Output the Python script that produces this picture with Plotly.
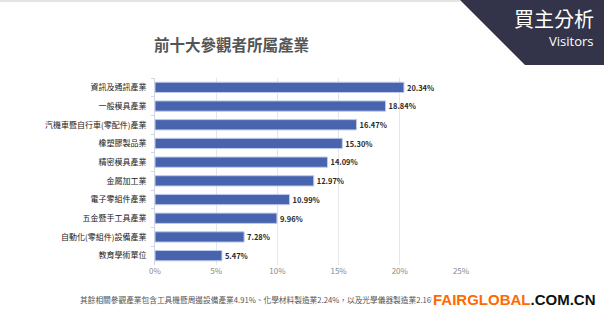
import plotly.graph_objects as go

categories = ["資訊及通訊產業", "一般模具產業", "汽機車暨自行車(零配件)產業", "橡塑膠製品業",
              "精密模具產業", "金屬加工業", "電子零組件產業", "五金暨手工具產業",
              "自動化(零組件)設備產業", "教育學術單位"]
values = [20.34, 18.84, 16.47, 15.30, 14.09, 12.97, 10.99, 9.96, 7.28, 5.47]
tick_vals = [0, 5, 10, 15, 20, 25]
tick_text = ["0%", "5%", "10%", "15%", "20%", "25%"]

title_text = "前十大參觀者所屬產業"
note_text = "其餘相關參觀產業包含工具機暨周邊設備產業4.91%、化學材料製造業2.24%，以及光學儀器製造業2.16%"

FONT = "Noto Sans CJK TC"

fig = go.Figure()
fig.add_trace(go.Bar(
    y=categories, x=values, orientation="h",
    marker=dict(color="#4864AE", line=dict(color="#BFCBEA", width=1)),
    text=[f"<b>{v:.2f}%</b>" for v in values], textposition="outside",
    textfont=dict(size=8, color="#2A2A2A", family=FONT),
    cliponaxis=False, hoverinfo="skip",
))

W, H = 604, 322
l, r, t, b = 155, 143, 78, 57
pw, ph = W - l - r, H - t - b

fig.update_layout(
    width=W, height=H,
    margin=dict(l=l, r=r, t=t, b=b),
    paper_bgcolor="white", plot_bgcolor="white",
    bargap=0.45, showlegend=False,
    font=dict(family=FONT),
    xaxis=dict(range=[0, 25], tickvals=tick_vals, ticktext=tick_text,
               showgrid=True, gridcolor="#E6E6E6", gridwidth=1, zeroline=False,
               tickfont=dict(size=8, color="#8A8A8A"), showline=False, ticks=""),
    yaxis=dict(autorange="reversed", showline=True, linecolor="#CFD6E6", linewidth=1,
               ticks="outside", ticklen=3, tickcolor="#CFD6E6", tickson="boundaries",
               tickfont=dict(size=8, color="#1A1A1A"), showgrid=False, ticklabelstandoff=6),
)

def px(x):
    return (x - l) / pw
def py(y):
    return (H - b - y) / ph

path = "M {} {} L {} {} L {} {} L {} {} Z".format(
    px(460), py(0), px(604), py(0), px(604), py(65), px(525), py(65))
fig.add_shape(type="path", xref="paper", yref="paper", path=path,
              fillcolor="#33344A", line=dict(width=0), layer="above")
fig.add_shape(type="line", xref="paper", yref="paper", x0=px(0), x1=px(460), y0=py(1), y1=py(1),
              line=dict(color="#E4E4E4", width=2))

fig.add_annotation(xref="paper", yref="paper", x=px(596), y=py(18), text="買主分析",
                   showarrow=False, xanchor="right", yanchor="middle",
                   font=dict(size=20, color="white", family=FONT))
fig.add_annotation(xref="paper", yref="paper", x=px(595), y=py(41), text="Visitors",
                   showarrow=False, xanchor="right", yanchor="middle",
                   font=dict(size=13, color="white", family="Open Sans"))

fig.add_annotation(xref="paper", yref="paper", x=px(231), y=py(44), text="<b>" + title_text + "</b>",
                   showarrow=False, xanchor="center", yanchor="middle",
                   font=dict(size=15.5, color="#555555", family=FONT))

fig.add_annotation(xref="paper", yref="paper", x=px(78), y=py(299), text=note_text,
                   showarrow=False, xanchor="left", yanchor="middle",
                   font=dict(size=7.7, color="#555555", family=FONT))

fig.add_annotation(xref="paper", yref="paper", x=px(431), y=py(299),
                   text="<b><span style='color:#FF6A00'>FAIRGLOBAL</span><span style='color:#111111'>.COM.CN</span></b>",
                   showarrow=False, xanchor="left", yanchor="middle", bgcolor="white",
                   font=dict(size=15, family="Liberation Sans"))

fig.write_html("out.html")
